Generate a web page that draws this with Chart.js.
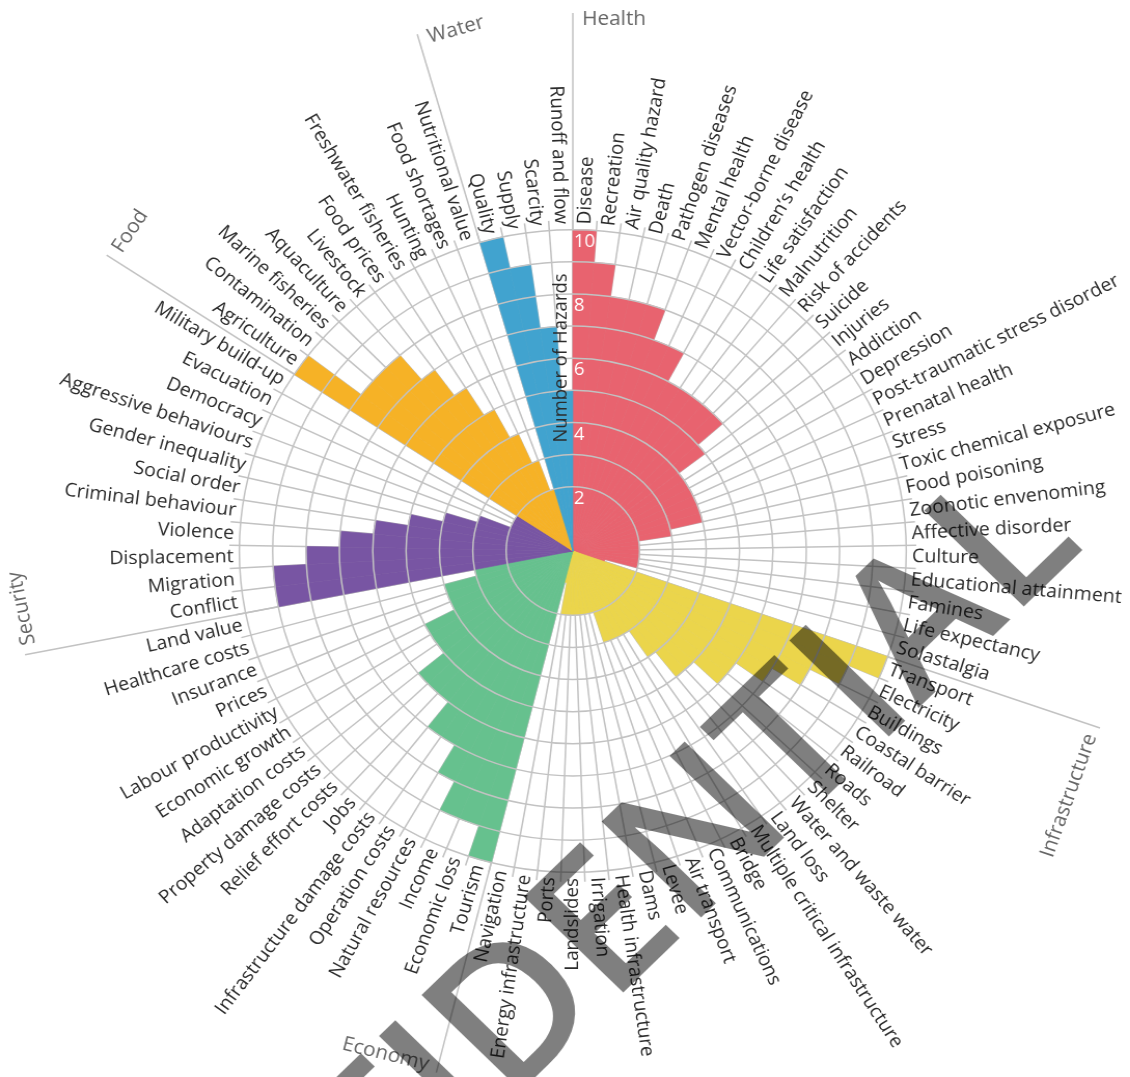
<!DOCTYPE html>
<html>
<head>
<meta charset="utf-8">
<script src="https://cdn.jsdelivr.net/npm/chart.js@4.4.1/dist/chart.umd.min.js"></script>
<style>
  html, body { margin: 0; padding: 0; background: #fff; overflow: hidden; }
  /* the reference is slightly wider than tall, so the whole chart is stretched a bit */
  #wrap { width: 1089px; height: 1077px; transform: scaleX(1.0377); transform-origin: 0 0; }
</style>
</head>
<body>
<div id="wrap"><canvas id="hazards"></canvas></div>
<script>
// categories per section, clockwise from the top
const healthLabels = ['Disease', 'Recreation', 'Air quality hazard', 'Death', 'Pathogen diseases', 'Mental health',
    'Vector-borne disease', 'Children\u2019s health', 'Life satisfaction', 'Malnutrition', 'Risk of accidents', 'Suicide',
    'Injuries', 'Addiction', 'Depression', 'Post-traumatic stress disorder', 'Prenatal health', 'Stress',
    'Toxic chemical exposure', 'Food poisoning', 'Zoonotic envenoming', 'Affective disorder', 'Culture',
    'Educational attainment', 'Famines', 'Life expectancy', 'Solastalgia'];
const healthValues = [10, 9, 8, 8, 8, 7, 7, 6, 6, 6, 6, 6, 5, 4, 4, 4, 4, 4, 4, 3, 2, 2, 2, 2, 2, 2, 1];

const infrastructureLabels = ['Transport', 'Electricity', 'Buildings', 'Coastal barrier', 'Railroad', 'Roads', 'Shelter',
    'Water and waste water', 'Land loss', 'Multiple critical infrastructure', 'Bridge', 'Communications',
    'Air transport', 'Levee', 'Dams', 'Health infrastructure', 'Irrigation', 'Landslides', 'Ports',
    'Energy infrastructure', 'Navigation'];
const infrastructureValues = [10, 9, 8, 7, 6, 6, 5, 5, 4, 3, 3, 3, 3, 2, 2, 2, 2, 2, 2, 2, 1];

const economyLabels = ['Tourism', 'Economic loss', 'Income', 'Natural resources', 'Operation costs',
    'Infrastructure damage costs', 'Jobs', 'Relief effort costs', 'Property damage costs', 'Adaptation costs',
    'Economic growth', 'Labour productivity', 'Prices', 'Insurance', 'Healthcare costs', 'Land value'];
const economyValues = [10, 9, 9, 8, 7, 7, 6, 6, 6, 5, 5, 5, 4, 4, 4, 3];

const securityLabels = ['Conflict', 'Migration', 'Displacement', 'Violence', 'Criminal behaviour', 'Social order',
    'Gender inequality', 'Aggressive behaviours', 'Democracy', 'Evacuation', 'Military build-up'];
const securityValues = [9, 9, 8, 7, 6, 5, 4, 3, 2, 2, 2];

const foodLabels = ['Agriculture', 'Contamination', 'Marine fisheries', 'Aquaculture', 'Livestock', 'Food prices',
    'Freshwater fisheries', 'Hunting', 'Food shortages', 'Nutritional value'];
const foodValues = [10, 8, 8, 8, 7, 6, 5, 4, 3, 2];

const waterLabels = ['Quality', 'Supply', 'Scarcity', 'Runoff and flow'];
const waterValues = [10, 9, 7, 5];

const sectionNames = ['Health', 'Infrastructure', 'Economy', 'Security', 'Food', 'Water'];
const sectionColors = ['#e8636f', '#ebd54b', '#66c18e', '#7855a3', '#f6b226', '#41a3cf'];
const tickLabels = ['2', '4', '6', '8', '10'];
const axisTitle = 'Number of Hazards';
const watermarkText = 'CONFIDENTIAL';

const labelSets = [healthLabels, infrastructureLabels, economyLabels, securityLabels, foodLabels, waterLabels];
const valueSets = [healthValues, infrastructureValues, economyValues, securityValues, foodValues, waterValues];

const labels = labelSets.flat();
const values = valueSets.flat();
const colors = labelSets.flatMap((set, s) => set.map(() => sectionColors[s]));
const sectionStarts = [];
let count = 0;
labelSets.forEach(set => { sectionStarts.push(count); count += set.length; });
// these names read the other way round so they are not upside down
const flippedSections = ['Infrastructure', 'Economy'];

const GRID = '#c2c2c2';
const FONT = '"Open Sans", sans-serif';

// spokes and section dividers sit under the bars
const spokesPlugin = {
    id: 'spokes',
    beforeDatasetsDraw(chart) {
        const scale = chart.scales.r;
        const ctx = chart.ctx;
        const outer = scale.getDistanceFromCenterForValue(scale.max);
        ctx.save();
        ctx.strokeStyle = GRID;
        ctx.lineWidth = 1.5;
        labels.forEach((_, i) => {
            const p = scale.getPointPosition(i, outer);
            ctx.beginPath();
            ctx.moveTo(scale.xCenter, scale.yCenter);
            ctx.lineTo(p.x, p.y);
            ctx.stroke();
        });
        sectionStarts.forEach(i => {
            const p = scale.getPointPosition(i, 538);
            ctx.beginPath();
            ctx.moveTo(scale.xCenter, scale.yCenter);
            ctx.lineTo(p.x, p.y);
            ctx.stroke();
        });
        ctx.restore();
    }
};

// category names, section names, tick labels and the watermark
const textPlugin = {
    id: 'texts',
    afterDraw(chart) {
        const scale = chart.scales.r;
        const ctx = chart.ctx;
        const step = 2 * Math.PI / labels.length;

        ctx.save();
        ctx.font = '18.8px ' + FONT;
        ctx.fillStyle = '#2b2b2b';
        ctx.textBaseline = 'middle';
        labels.forEach((text, i) => {
            const a = scale.getIndexAngle(i) + step / 2;
            const p = scale.getPointPosition(i, 327, step / 2);
            ctx.save();
            ctx.translate(p.x, p.y);
            if (a < Math.PI) {
                ctx.rotate(a - Math.PI / 2);
                ctx.textAlign = 'left';
            } else {
                ctx.rotate(a + Math.PI / 2);
                ctx.textAlign = 'right';
            }
            ctx.fillText(text, 0, 0);
            ctx.restore();
        });

        ctx.font = '20px ' + FONT;
        ctx.fillStyle = '#666';
        sectionStarts.forEach((i, s) => {
            const a = scale.getIndexAngle(i);
            ctx.save();
            ctx.translate(scale.xCenter, scale.yCenter);
            if (flippedSections.includes(sectionNames[s])) {
                ctx.rotate(a + Math.PI);
                ctx.textAlign = 'right';
                ctx.fillText(sectionNames[s], -9, 532);
            } else {
                ctx.rotate(a);
                ctx.textAlign = 'left';
                ctx.fillText(sectionNames[s], 9, -532);
            }
            ctx.restore();
        });

        ctx.font = '18px ' + FONT;
        ctx.fillStyle = '#fff';
        ctx.textAlign = 'left';
        tickLabels.forEach(t => {
            const r = scale.getDistanceFromCenterForValue(Number(t));
            ctx.fillText(t, scale.xCenter + 1, scale.yCenter - r + 12);
        });

        ctx.font = '18.5px ' + FONT;
        ctx.fillStyle = '#2b2b2b';
        ctx.textAlign = 'center';
        ctx.save();
        ctx.translate(scale.xCenter - 11, scale.yCenter - 193);
        ctx.rotate(-Math.PI / 2);
        ctx.fillText(axisTitle, 0, 0);
        ctx.restore();

        // watermark, placed by the corner of its last letter
        const size = 190;
        ctx.font = '600 ' + size + 'px ' + FONT;
        ctx.fillStyle = 'rgba(0, 0, 0, 0.5)';
        ctx.textAlign = 'left';
        ctx.textBaseline = 'alphabetic';
        const lead = ctx.measureText(watermarkText.slice(0, -1)).width + 0.09 * size;
        ctx.translate(986, 607);
        ctx.rotate(-45 * Math.PI / 180);
        ctx.fillText(watermarkText, -lead, 0);
        ctx.restore();
    }
};

new Chart(document.getElementById('hazards'), {
    type: 'polarArea',
    data: {
        labels: labels,
        datasets: [{
            data: values,
            backgroundColor: colors,
            borderColor: colors,
            borderWidth: 0.6,
        }],
    },
    options: {
        responsive: true,
        maintainAspectRatio: false,
        animation: false,
        layout: { padding: { left: 221, right: 206, top: 220, bottom: 195 } },
        plugins: {
            legend: { display: false },
            tooltip: { enabled: false },
        },
        scales: {
            r: {
                min: 0,
                max: 10.3,
                startAngle: 0,
                ticks: { display: false, stepSize: 1 },
                grid: {
                    z: 1,
                    circular: true,
                    color: GRID,
                    lineWidth: ctx => {
                        const v = ctx.tick ? ctx.tick.value : 0;
                        return (v >= 2 && v <= 10 && Number.isInteger(v)) ? 1.5 : 0;
                    }
                },
                angleLines: { display: false },
                pointLabels: { display: false },
            }
        }
    },
    plugins: [spokesPlugin, textPlugin]
});
</script>
</body>
</html>
